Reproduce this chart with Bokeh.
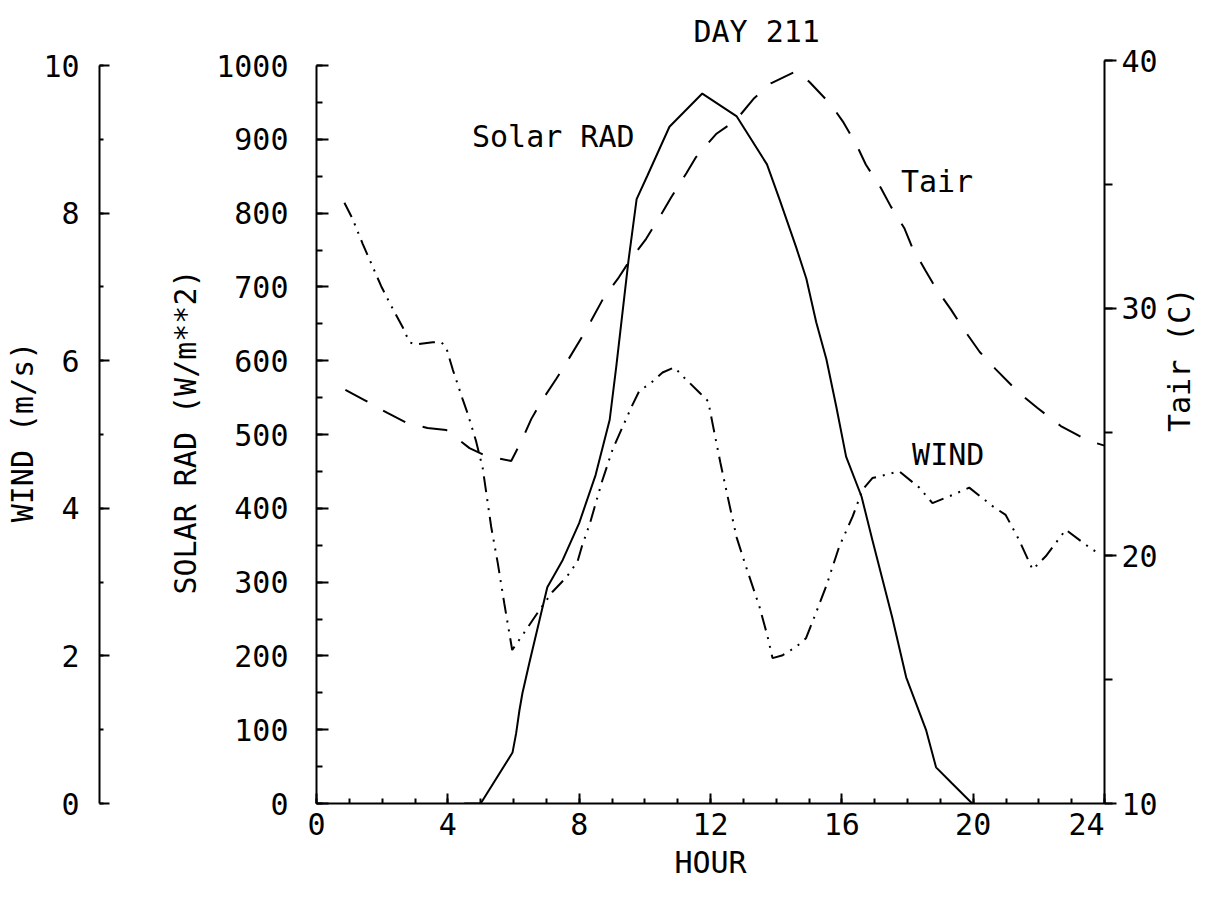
import math
from bokeh.plotting import figure
from bokeh.models import Range1d, LinearAxis, SingleIntervalTicker, FixedTicker, Label
from bokeh.embed import file_html
from bokeh.resources import INLINE

# ---------------- data ----------------
solar_hour = [4.5, 5.0, 5.97, 6.08, 6.18, 6.27, 6.48, 6.8, 7.03, 7.5, 8.0, 8.5, 8.93,
              9.13, 9.5, 9.75, 10.08, 10.75, 11.75, 12.8, 13.72, 14.1, 14.6, 14.92,
              15.22, 15.53, 15.83, 16.13, 16.6, 16.93, 17.53, 17.96, 18.57, 18.87,
              19.36, 19.97]
solar_rad = [0, 0, 69, 95, 126, 149, 190, 250, 293, 330, 380, 445, 520,
             592, 735, 819, 851, 917, 962, 931, 866, 819, 755, 711,
             652, 602, 538, 470, 416, 357, 253, 171, 99, 49,
             27, 0]

tair_hour = [0.88, 1.46, 2.16, 2.73, 3.38, 3.95, 4.66, 5.17, 5.93, 6.23, 6.54, 6.84,
             7.3, 7.64, 8.1, 8.36, 8.77, 9.17, 9.53, 10.04, 10.5, 10.8, 11.27, 11.56,
             12.17, 12.78, 13.33, 13.84, 14.6, 15.0, 15.68, 16.05, 16.47, 16.73,
             17.19, 17.49, 17.9, 18.15, 18.56, 18.86, 19.32, 19.7, 20.2, 20.69,
             21.4, 21.95, 22.67, 23.23, 23.75, 24.0]
tair_c = [26.7, 26.29, 25.77, 25.38, 25.16, 25.08, 24.35, 24.03, 23.83, 24.6, 25.52, 26.22,
          27.14, 27.86, 28.87, 29.48, 30.48, 31.17, 31.9, 32.8, 33.79, 34.47, 35.46, 36.1,
          37.03, 37.6, 38.48, 39.08, 39.56, 39.15, 38.2, 37.5, 36.53, 35.8,
          34.85, 34.11, 33.24, 32.43, 31.49, 30.82, 29.95, 29.17, 28.23, 27.53,
          26.58, 25.98, 25.24, 24.84, 24.55, 24.45]

wind_hour = [0.85, 1.1, 1.41, 1.97, 2.22, 2.63, 2.83, 3.03, 3.54, 3.8, 3.95, 4.15, 4.45,
             4.6, 4.86, 5.06, 5.32, 5.52, 5.72, 5.96, 6.38, 6.79, 7.19, 7.62, 7.95,
             8.08, 8.33, 8.7, 9.02, 9.33, 9.6, 9.83, 10.19, 10.54, 10.9, 11.2, 11.66,
             11.93, 12.08, 12.3, 12.6, 12.8, 13.08, 13.49, 13.74, 13.89, 14.2, 14.6,
             14.91, 15.21, 15.52, 15.92, 16.33, 16.63, 16.93, 17.75, 18.36, 18.76,
             19.37, 19.88, 20.59, 20.99, 21.4, 21.81, 22.21, 22.82, 23.63, 23.8]
wind_ms = [8.14, 7.92, 7.58, 7.01, 6.79, 6.45, 6.25, 6.22, 6.25, 6.25, 6.18, 5.88, 5.48,
           5.29, 4.91, 4.55, 3.75, 3.26, 2.71, 2.08, 2.35, 2.62, 2.87, 3.07, 3.28,
           3.48, 3.8, 4.37, 4.8, 5.11, 5.38, 5.59, 5.70, 5.84, 5.91, 5.77, 5.57,
           5.45, 5.11, 4.62, 4.0, 3.6, 3.21, 2.67, 2.26, 1.97, 2.01, 2.12,
           2.24, 2.58, 2.94, 3.48, 3.89, 4.25, 4.41, 4.5, 4.28, 4.07,
           4.18, 4.28, 4.03, 3.91, 3.57, 3.17, 3.35, 3.71, 3.44, 3.40]

title_text = "DAY 211"
x_title = "HOUR"
solar_title = "SOLAR RAD (W/m**2)"
wind_title = "WIND (m/s)"
tair_title = "Tair (C)"
series_labels = ["Solar RAD", "Tair", "WIND"]

# ---------------- figure ----------------
FONT = "DejaVu Sans Mono"
FS = "30px"

p = figure(width=1217, height=900, output_backend="svg", toolbar_location=None,
           x_range=Range1d(0, 24), y_range=Range1d(0, 1006.8),
           min_border_left=316, min_border_right=112, min_border_top=60,
           min_border_bottom=97)
p.extra_y_ranges = {"wind": Range1d(0, 10.068), "tair": Range1d(10, 40)}
p.outline_line_color = None
p.xgrid.visible = False
p.ygrid.visible = False
p.background_fill_color = "white"
p.border_fill_color = "white"

p.title.text = title_text
p.title.text_font = FONT
p.title.text_font_size = FS
p.title.text_font_style = "normal"
p.title.text_color = "black"
p.title.align = "left"
p.title.offset = 377
p.title.standoff = 23


def style(ax):
    ax.axis_line_width = 2
    ax.axis_line_color = "black"
    ax.major_tick_line_width = 2
    ax.minor_tick_line_width = 2
    ax.major_tick_line_color = "black"
    ax.minor_tick_line_color = "black"
    ax.major_label_text_font = FONT
    ax.major_label_text_font_size = FS
    ax.major_label_text_color = "black"
    ax.axis_label_text_font = FONT
    ax.axis_label_text_font_size = FS
    ax.axis_label_text_font_style = "normal"
    ax.axis_label_text_color = "black"


xa = p.xaxis[0]
style(xa)
xa.ticker = SingleIntervalTicker(interval=4, num_minor_ticks=4)
xa.bounds = (0, 24)
xa.major_tick_in = 10
xa.major_tick_out = 0
xa.minor_tick_in = 5
xa.minor_tick_out = 0
xa.major_label_standoff = 3
xa.major_label_overrides = {24: "24\u00a0\u00a0"}
xa.axis_label = x_title
xa.axis_label_standoff = 0

ya = p.yaxis[0]
style(ya)
ya.ticker = SingleIntervalTicker(interval=100, num_minor_ticks=2)
ya.bounds = (0, 1000)
ya.major_tick_in = 12
ya.major_tick_out = 0
ya.minor_tick_in = 6
ya.minor_tick_out = 0
ya.major_label_standoff = 28
ya.axis_label = solar_title
ya.axis_label_standoff = 10

# invisible spacer between the SOLAR RAD and WIND axes
spacer = LinearAxis(ticker=FixedTicker(ticks=[]), axis_label=".",
                    axis_label_text_font_size="10px", axis_label_text_alpha=0,
                    axis_label_standoff=55,
                    major_tick_out=0, major_tick_in=0, minor_tick_out=0, minor_tick_in=0,
                    axis_line_color=None, major_tick_line_color=None,
                    minor_tick_line_color=None, major_label_text_color=None)
p.add_layout(spacer, "left")

wa = LinearAxis(y_range_name="wind")
style(wa)
wa.ticker = SingleIntervalTicker(interval=2, num_minor_ticks=2)
wa.bounds = (0, 10)
wa.major_tick_in = 10
wa.major_tick_out = 0
wa.minor_tick_in = 4
wa.minor_tick_out = 0
wa.major_label_standoff = 20
wa.axis_label = wind_title
wa.axis_label_standoff = 0
p.add_layout(wa, "left")

ta = LinearAxis(y_range_name="tair")
style(ta)
ta.ticker = SingleIntervalTicker(interval=10, num_minor_ticks=2)
ta.bounds = (10, 40)
ta.major_tick_in = 0
ta.major_tick_out = 12
ta.minor_tick_in = 0
ta.minor_tick_out = 8
ta.major_label_standoff = 5
ta.axis_label = tair_title
ta.axis_label_standoff = 19
try:
    ta.axis_label_orientation = math.pi / 2
except Exception:
    pass
p.add_layout(ta, "right")

# ---------------- series ----------------
p.line(solar_hour, solar_rad, line_width=2, line_color="black")
p.line(tair_hour, tair_c, y_range_name="tair", line_width=2, line_color="black",
       line_dash="25 18")
p.line(wind_hour, wind_ms, y_range_name="wind", line_width=2, line_color="black",
       line_dash="16 7 2 7 2 7")

label_pos = [(7.21, 904), (18.9, 843), (19.24, 473)]
for txt, (lx, ly) in zip(series_labels, label_pos):
    p.add_layout(Label(x=lx, y=ly, text=txt, text_align="center",
                       text_baseline="middle", text_font=FONT,
                       text_font_size=FS, text_color="black"))

open("out.html", "w").write(file_html(p, INLINE))
